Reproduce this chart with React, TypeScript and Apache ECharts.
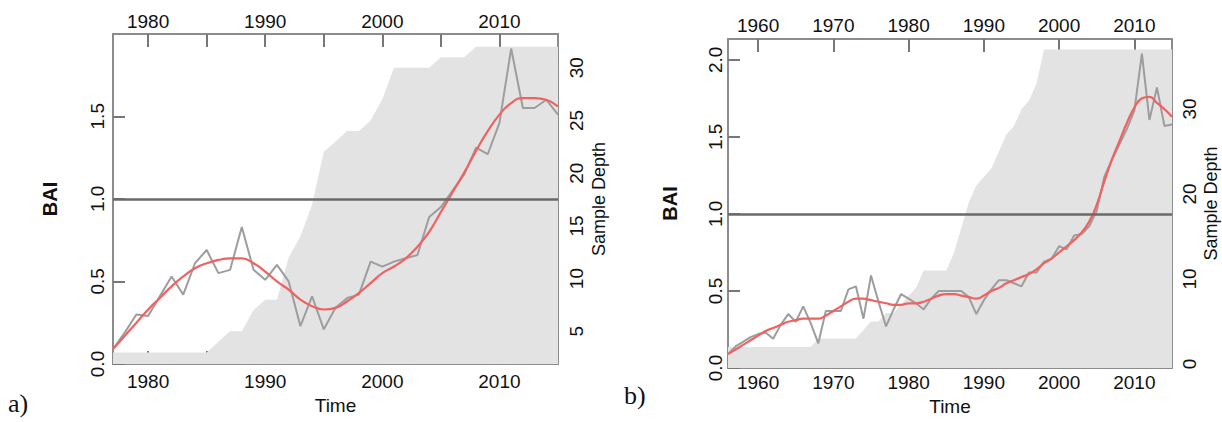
import React, { useEffect, useRef } from "react";
import * as echarts from "echarts";

// ---------- data ----------
const yearsA: number[] = [];
for (let y = 1977; y <= 2015; y++) yearsA.push(y);
const yearsB: number[] = [];
for (let y = 1956; y <= 2015; y++) yearsB.push(y);

// panel a) raw BAI (grey), smoothed BAI (red), sample depth (grey area)
const baiA = [0.09, 0.19, 0.30, 0.29, 0.41, 0.53, 0.42, 0.61, 0.69, 0.55, 0.57, 0.83, 0.57, 0.51, 0.60, 0.50, 0.23, 0.41, 0.21, 0.34, 0.40, 0.42, 0.62, 0.59, 0.62, 0.64, 0.66, 0.89, 0.95, 1.05, 1.15, 1.31, 1.27, 1.46, 1.91, 1.55, 1.55, 1.60, 1.51];
const smoothA = [0.09, 0.17, 0.25, 0.33, 0.40, 0.47, 0.53, 0.58, 0.61, 0.63, 0.64, 0.64, 0.61, 0.56, 0.50, 0.45, 0.39, 0.35, 0.33, 0.34, 0.38, 0.43, 0.49, 0.55, 0.59, 0.64, 0.71, 0.80, 0.92, 1.04, 1.16, 1.29, 1.41, 1.51, 1.58, 1.61, 1.61, 1.60, 1.56];
const depthA = [3, 3, 3, 3, 3, 3, 3, 3, 3, 4, 5, 5, 7, 8, 8, 12, 14, 17, 22, 23, 24, 24, 25, 27, 30, 30, 30, 30, 31, 31, 31, 32, 32, 32, 32, 32, 32, 32, 32];

// panel b)
const baiB = [0.09, 0.14, 0.17, 0.20, 0.22, 0.23, 0.19, 0.28, 0.35, 0.30, 0.40, 0.29, 0.16, 0.37, 0.37, 0.37, 0.51, 0.53, 0.32, 0.60, 0.43, 0.27, 0.38, 0.48, 0.45, 0.42, 0.38, 0.45, 0.50, 0.50, 0.50, 0.50, 0.46, 0.35, 0.44, 0.51, 0.57, 0.57, 0.55, 0.53, 0.62, 0.62, 0.69, 0.71, 0.79, 0.77, 0.86, 0.87, 0.92, 1.02, 1.24, 1.35, 1.45, 1.55, 1.67, 2.04, 1.61, 1.82, 1.57, 1.58];
const smoothB = [0.09, 0.12, 0.15, 0.18, 0.21, 0.24, 0.26, 0.28, 0.30, 0.31, 0.32, 0.32, 0.32, 0.34, 0.37, 0.40, 0.43, 0.45, 0.45, 0.44, 0.43, 0.42, 0.41, 0.41, 0.42, 0.42, 0.43, 0.45, 0.47, 0.48, 0.48, 0.47, 0.46, 0.45, 0.47, 0.50, 0.52, 0.55, 0.57, 0.59, 0.61, 0.64, 0.68, 0.71, 0.75, 0.79, 0.83, 0.88, 0.95, 1.06, 1.21, 1.35, 1.47, 1.59, 1.69, 1.75, 1.76, 1.72, 1.68, 1.63];
const depthB = [2, 2, 2, 2, 2, 2, 2, 2, 2, 2, 2, 2, 3, 3, 3, 3, 3, 3, 4, 5, 5, 6, 6, 7, 8, 9, 11, 11, 11, 11, 13, 16, 19, 21, 22, 23, 25, 27, 28, 30, 31, 33, 37, 37, 37, 37, 37, 37, 37, 37, 37, 37, 37, 37, 37, 37, 37, 37, 37, 37];

// tick labels
const xTicksA = [1980, 1985, 1990, 1995, 2000, 2005, 2010];
const xLabelsA = [1980, 1990, 2000, 2010];
const xTicksB = [1960, 1970, 1980, 1990, 2000, 2010];
const baiTicksA = [0, 0.5, 1.0, 1.5];
const baiTicksB = [0, 0.5, 1.0, 1.5, 2.0];
const depthTicksA = [5, 10, 15, 20, 25, 30];
const depthTicksB = [0, 10, 20, 30];

const FONT = "Liberation Sans";
const AXIS_COLOR = "#8c8c8c";
const TICK_COLOR = "#777777";

const pairs = (xs: number[], ys: number[]) => xs.map((x, i) => [x, ys[i]]);

function xAxisPair(gridIndex: number, min: number, max: number, ticks: number[], labels: number[], topMargin: number, bottomMargin: number, nameGap: number) {
  const base = {
    type: "value",
    gridIndex,
    min,
    max,
    splitLine: { show: false },
    axisLine: { show: true, onZero: false, lineStyle: { color: AXIS_COLOR, width: 2 } },
    axisTick: { show: true, inside: true, length: 13, customValues: ticks, lineStyle: { color: TICK_COLOR, width: 2 } },
  };
  return [
    {
      ...base,
      position: "bottom",
      name: "Time",
      nameLocation: "middle",
      nameGap,
      nameTextStyle: { fontFamily: FONT, fontSize: 19, color: "#111" },
      axisLabel: { customValues: labels, fontFamily: FONT, fontSize: 19, color: "#111", margin: bottomMargin, formatter: (v: number) => String(v) },
    },
    {
      ...base,
      position: "top",
      axisLabel: { customValues: labels, fontFamily: FONT, fontSize: 19, color: "#111", margin: topMargin, formatter: (v: number) => String(v) },
    },
  ];
}

function yAxis(gridIndex: number, position: string, min: number, max: number, labels: number[], name: string, nameGap: number, margin: number, bold: boolean, decimals: number) {
  return {
    type: "value",
    gridIndex,
    position,
    min,
    max,
    splitLine: { show: false },
    axisLine: { show: true, onZero: false, lineStyle: { color: AXIS_COLOR, width: 2 } },
    axisTick: { show: true, inside: true, length: 12, customValues: labels, lineStyle: { color: TICK_COLOR, width: 2 } },
    axisLabel: {
      customValues: labels,
      rotate: 90,
      fontFamily: FONT,
      fontSize: 19,
      color: "#111",
      margin,
      formatter: (v: number) => v.toFixed(decimals),
    },
    name,
    nameLocation: "middle",
    nameGap,
    nameRotate: 90,
    nameTextStyle: { fontFamily: FONT, fontSize: bold ? 20 : 18, fontWeight: bold ? "bold" : "normal", color: "#111" },
  };
}

function panelSeries(xi: number, yBai: number, yDepth: number, years: number[], bai: number[], smooth: number[], depth: number[]) {
  return [
    {
      type: "line",
      xAxisIndex: xi,
      yAxisIndex: yDepth,
      data: pairs(years, depth),
      symbol: "none",
      lineStyle: { width: 0 },
      areaStyle: { color: "#e3e3e3", opacity: 1, origin: "start" },
      z: 1,
      silent: true,
    },
    {
      type: "line",
      xAxisIndex: xi,
      yAxisIndex: yBai,
      data: pairs(years, bai),
      symbol: "none",
      lineStyle: { color: "#9d9d9d", width: 2 },
      z: 3,
      markLine: {
        silent: true,
        symbol: "none",
        label: { show: false },
        lineStyle: { color: "#6a6a6a", width: 2.5, type: "solid" },
        data: [{ yAxis: 1 }],
      },
    },
    {
      type: "line",
      xAxisIndex: xi,
      yAxisIndex: yBai,
      data: pairs(years, smooth),
      symbol: "none",
      smooth: true,
      lineStyle: { color: "#f06262", width: 2.2 },
      z: 4,
    },
  ];
}

export default function App() {
  const ref = useRef<HTMLDivElement>(null);
  useEffect(() => {
    if (!ref.current) return;
    const chart = echarts.init(ref.current, undefined, { renderer: "svg" });
    const option: any = {
      animation: false,
      backgroundColor: "#ffffff",
      grid: [
        { left: 113, top: 34, width: 445, height: 330 },
        { left: 728, top: 39, width: 444, height: 329 },
      ],
      xAxis: [
        ...xAxisPair(0, 1977, 2015, xTicksA, xLabelsA, 3, 8, 28),
        ...xAxisPair(1, 1956, 2015, xTicksB, xTicksB, 4, 5, 27),
      ],
      yAxis: [
        yAxis(0, "left", 0, 1.998, baiTicksA, "BAI", 53, 6, true, 1),
        yAxis(0, "right", 1.9, 33.2, depthTicksA, "Sample Depth", 32, 9, false, 0),
        yAxis(1, "left", 0, 2.135, baiTicksB, "BAI", 48, 3, true, 1),
        yAxis(1, "right", -0.47, 38.24, depthTicksB, "Sample Depth", 30, 8, false, 0),
      ],
      series: [
        ...panelSeries(0, 0, 1, yearsA, baiA, smoothA, depthA),
        ...panelSeries(2, 2, 3, yearsB, baiB, smoothB, depthB),
      ],
      graphic: [
        { type: "text", left: 8, top: 390, style: { text: "a)", font: '26px "Liberation Serif"', fill: "#111" } },
        { type: "text", left: 624, top: 382, style: { text: "b)", font: '26px "Liberation Serif"', fill: "#111" } },
      ],
    };
    chart.setOption(option);
    return () => chart.dispose();
  }, []);
  return <div ref={ref} style={{ position: "absolute", left: 0, top: 0, width: 1222, height: 422 }} />;
}
